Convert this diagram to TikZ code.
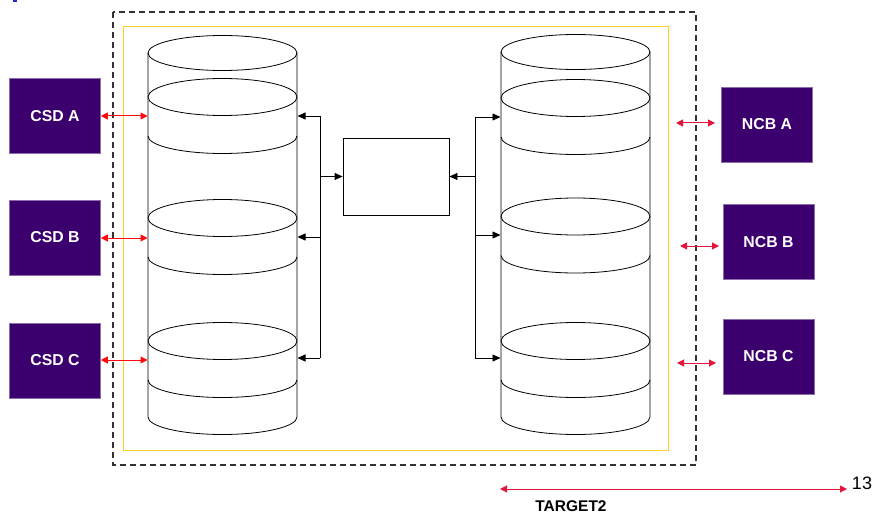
\documentclass[tikz,border=0pt]{standalone}
\usepackage{fontspec}
\setmainfont{Liberation Sans}
\usetikzlibrary{arrows.meta}

\definecolor{bankpurple}{RGB}{60,0,110}
\definecolor{bankedge}{RGB}{140,110,175}
\definecolor{linkred}{RGB}{255,10,10}
\definecolor{linkcrimson}{RGB}{228,22,60}
\definecolor{frameyellow}{RGB}{255,208,30}
\definecolor{framegray}{RGB}{50,50,50}
\definecolor{markblue}{RGB}{40,40,200}

\begin{document}
\begin{tikzpicture}[x=1pt,y=-1pt,
  bank/.style={fill=bankpurple, draw=bankedge, line width=0.6pt, text=white,
    font=\bfseries\fontsize{15.8}{18}\selectfont,
    minimum width=91pt, minimum height=75pt, inner sep=0pt},
  cyl/.style={draw=black, line width=0.8pt},
  link/.style={draw=black, line width=0.8pt, -{Triangle[length=8pt,width=7pt]}},
  redlink/.style={draw=linkred, line width=1pt,
    {Triangle[length=7pt,width=7pt]}-{Triangle[length=7pt,width=7pt]}},
  crimsonlink/.style={draw=linkcrimson, line width=1pt,
    {Triangle[length=7pt,width=7pt]}-{Triangle[length=7pt,width=7pt]}},
]
\useasboundingbox (0,0) rectangle (876,516);
\fill[white] (0,0) rectangle (876,516);

% small mark in the corner
\fill[markblue] (13,0) rectangle (17,2);

% outer frames
\draw[framegray, line width=1.3pt, dash pattern=on 6pt off 4pt] (113,12) rectangle (696,465);
\draw[frameyellow, line width=1pt] (123,27) rectangle (668,450);

% two storage cylinders, each with three bands
\foreach \cx/\tp/\ba/\bb/\bc in {222.5/53/97/218/341, 575.5/52/98/216.5/341}{
  \draw[cyl] (\cx-74.5,\tp) -- (\cx-74.5,417)
    arc[start angle=180,end angle=360,x radius=74.5pt,y radius=17.5pt]
    -- (\cx+74.5,\tp);
  \draw[cyl] (\cx,\tp) ellipse[x radius=74.5pt,y radius=17.5pt];
  \foreach \c in {\ba,\bb,\bc}{
    \draw[cyl] (\cx,\c) ellipse[x radius=74.5pt,y radius=18.5pt];
    \draw[cyl] (\cx-74.5,\c+39)
      arc[start angle=180,end angle=360,x radius=74.5pt,y radius=17.5pt];
  }
}

% central box
\node[draw, line width=0.8pt, minimum width=106pt, minimum height=77pt, inner sep=0pt]
  (hub) at (396,176.5) {};

% participants
\node[bank] (csdA) at (55,116) {CSD A};
\node[bank] (csdB) at (55,237.5) {CSD B};
\node[bank] (csdC) at (55,360.5) {CSD C};
\node[bank] (ncbA) at (767,124.5) {NCB A};
\node[bank] (ncbB) at (768.5,242) {NCB B};
\node[bank] (ncbC) at (768.5,356.5) {NCB C};

% attachment points on the cylinders
\coordinate (lc1) at (297.5,116);
\coordinate (lc2) at (297.5,237);
\coordinate (lc3) at (297.5,358);
\coordinate (rc1) at (500.5,117);
\coordinate (rc2) at (500.5,235);
\coordinate (rc3) at (500.5,358);
\coordinate (lb1) at (320,116);
\coordinate (lb3) at (320,358);
\coordinate (rb1) at (475,117);
\coordinate (rb3) at (475,358);

% left bus
\draw[cyl] (lb1) -- (lb3);
\draw[link] (lb1) -- (lc1);
\draw[link] (lb1 |- lc2) -- (lc2);
\draw[link] (lb3) -- (lc3);
\draw[link] (lb1 |- hub.west) -- (hub.west);

% right bus
\draw[cyl] (rb1) -- (rb3);
\draw[link] (rb1) -- (rc1);
\draw[link] (rb1 |- rc2) -- (rc2);
\draw[link] (rb3) -- (rc3);
\draw[link] (rb1 |- hub.east) -- (hub.east);

% CSD links
\coordinate (ca) at (147.5,116);
\coordinate (cb) at (147.5,238);
\coordinate (cc) at (147.5,360);
\draw[redlink] (csdA.east |- ca) -- (ca);
\draw[redlink] (csdB.east |- cb) -- (cb);
\draw[redlink] (csdC.east |- cc) -- (cc);

% NCB links
\coordinate (na1) at (676,123);
\coordinate (na2) at (715,123);
\coordinate (nb1) at (680,246);
\coordinate (nb2) at (719,246);
\coordinate (nc1) at (677,363);
\coordinate (nc2) at (716,363);
\draw[crimsonlink] (na1) -- (na2);
\draw[crimsonlink] (nb1) -- (nb2);
\draw[crimsonlink] (nc1) -- (nc2);

% TARGET2 span
\coordinate (t1) at (500,489);
\coordinate (t2) at (847,489);
\draw[crimsonlink] (t1) -- (t2);
\node[font=\bfseries\fontsize{15.5}{18}\selectfont, inner sep=0pt] (tlabel) at (571,506) {TARGET2};
\node[font=\fontsize{18}{20}\selectfont, inner sep=0pt] (pagenum) at (862,483) {13};
\end{tikzpicture}
\end{document}
